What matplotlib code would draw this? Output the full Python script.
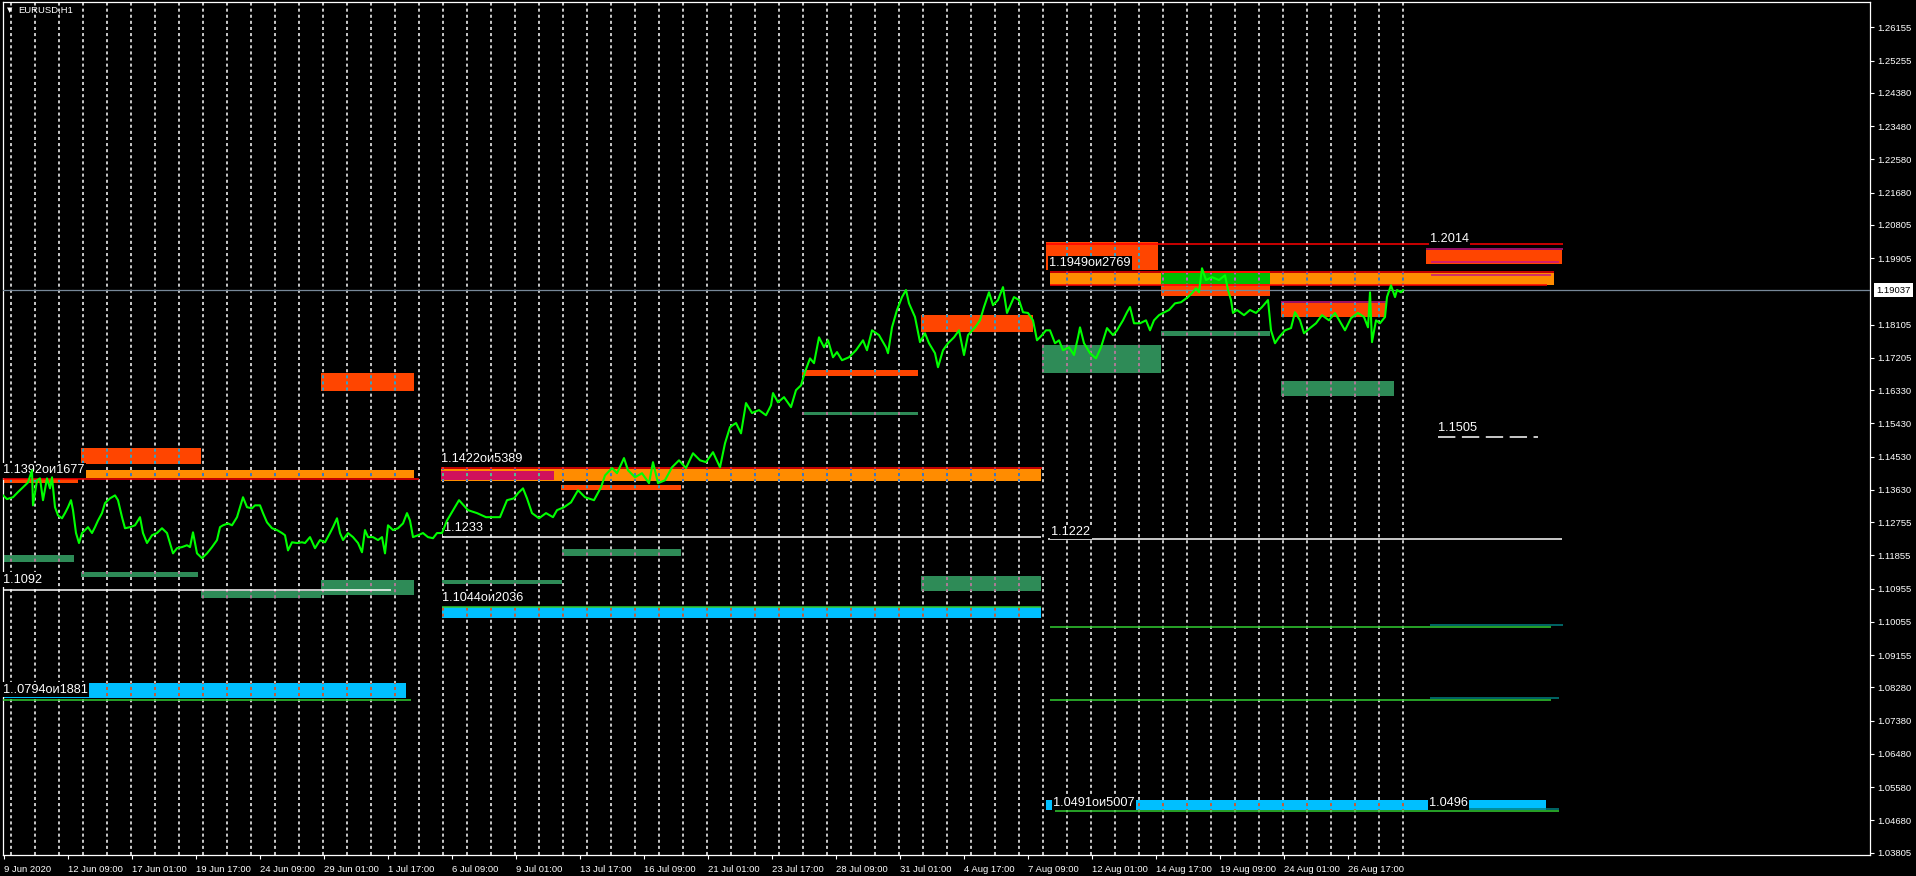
import numpy as np
import matplotlib
matplotlib.use('Agg')
import matplotlib.pyplot as plt
import matplotlib.patches as patches
import matplotlib.colors as mcolors
import matplotlib.transforms as mtransforms

plt.rcParams['font.family'] = ['Liberation Sans', 'DejaVu Sans']
plt.rcParams['lines.scale_dashes'] = False

# EURUSD H1 closes, bar 0 = 9 Jun 2020 17:00 (one bar per hour)
price_points = [
    (-1, 1.1348), (3, 1.1338), (9, 1.1343), (14, 1.1357), (19, 1.1370), (24, 1.1383), (28, 1.1416), (29, 1.1321), (33, 1.1389), (36, 1.1394),
    (39, 1.1335), (43, 1.1394), (46, 1.1367), (48, 1.1397), (51, 1.1316), (54, 1.1294), (58, 1.1286), (61, 1.1300), (64, 1.1316), (67, 1.1335),
    (69, 1.1308), (72, 1.1246), (75, 1.1219), (78, 1.1246), (81, 1.1254), (84, 1.1262), (88, 1.1246), (91, 1.1262), (94, 1.1280), (98, 1.1300),
    (101, 1.1327), (106, 1.1340), (111, 1.1348), (114, 1.1335), (118, 1.1289), (121, 1.1259), (126, 1.1262), (131, 1.1267), (136, 1.1289), (139, 1.1246),
    (143, 1.1219), (148, 1.1240), (153, 1.1246), (158, 1.1259), (163, 1.1246), (166, 1.1219), (169, 1.1191), (173, 1.1205), (178, 1.1208), (183, 1.1213),
    (186, 1.1208), (189, 1.1248), (193, 1.1191), (198, 1.1178), (203, 1.1191), (208, 1.1208), (213, 1.1227), (216, 1.1262), (219, 1.1267), (224, 1.1272),
    (228, 1.1267), (233, 1.1289), (236, 1.1316), (239, 1.1343), (243, 1.1316), (248, 1.1313), (251, 1.1321), (256, 1.1321), (259, 1.1300), (263, 1.1275),
    (268, 1.1259), (273, 1.1254), (278, 1.1246), (281, 1.1240), (284, 1.1199), (288, 1.1221), (293, 1.1219), (298, 1.1221), (301, 1.1219), (306, 1.1235),
    (311, 1.1205), (316, 1.1227), (321, 1.1221), (326, 1.1246), (329, 1.1262), (333, 1.1286), (336, 1.1246), (339, 1.1227), (344, 1.1246), (349, 1.1235),
    (354, 1.1219), (358, 1.1194), (361, 1.1254), (364, 1.1235), (369, 1.1235), (374, 1.1227), (378, 1.1235), (381, 1.1191), (384, 1.1267), (389, 1.1254),
    (394, 1.1259), (399, 1.1272), (403, 1.1300), (406, 1.1280), (409, 1.1235), (414, 1.1240), (419, 1.1246), (424, 1.1235), (429, 1.1232), (433, 1.1246),
    (438, 1.1246), (443, 1.1280),
    (445, 1.1289), (455, 1.1335), (464, 1.1308), (473, 1.1300), (482, 1.1289), (496, 1.1289), (503, 1.1335), (510, 1.1340), (514, 1.1354), (519, 1.1367),
    (523, 1.1340), (528, 1.1300), (535, 1.1286), (542, 1.1300), (549, 1.1289), (553, 1.1308), (560, 1.1316), (567, 1.1329), (574, 1.1362), (581, 1.1343),
    (590, 1.1335), (597, 1.1370), (601, 1.1402), (608, 1.1422), (613, 1.1408), (620, 1.1449), (624, 1.1416), (631, 1.1397), (638, 1.1408), (645, 1.1381),
    (649, 1.1438), (654, 1.1381), (661, 1.1389), (668, 1.1424), (675, 1.1443), (682, 1.1422), (689, 1.1462), (696, 1.1443), (702, 1.1438), (709, 1.1465),
    (716, 1.1424), (721, 1.1489), (726, 1.1533), (732, 1.1544), (737, 1.1516), (742, 1.1598), (748, 1.1571), (755, 1.1579), (762, 1.1565), (767, 1.1592),
    (769, 1.1625), (774, 1.1600), (780, 1.1614), (787, 1.1587), (792, 1.1633), (797, 1.1646), (801, 1.1682), (806, 1.1719), (810, 1.1706), (815, 1.1776),
    (820, 1.1749), (824, 1.1768), (829, 1.1722), (833, 1.1736), (838, 1.1714), (845, 1.1722), (852, 1.1741), (859, 1.1768), (863, 1.1741), (868, 1.1795),
    (875, 1.1782), (882, 1.1749), (884, 1.1733), (888, 1.1803), (893, 1.1850), (898, 1.1885), (902, 1.1904), (905, 1.1868), (911, 1.1831), (916, 1.1763),
    (921, 1.1787), (925, 1.1760), (931, 1.1733), (934, 1.1695), (939, 1.1741), (944, 1.1760), (950, 1.1776), (955, 1.1795), (960, 1.1728), (964, 1.1782),
    (971, 1.1803), (976, 1.1822), (980, 1.1858), (985, 1.1898), (989, 1.1863), (994, 1.1877), (999, 1.1912), (1003, 1.1842), (1010, 1.1885), (1015, 1.1877),
    (1019, 1.1844), (1024, 1.1842), (1029, 1.1822), (1033, 1.1768), (1038, 1.1782),
    (1042, 1.1795), (1046, 1.1795), (1051, 1.1760), (1055, 1.1768), (1059, 1.1741), (1065, 1.1749), (1070, 1.1728), (1074, 1.1776), (1076, 1.1803), (1080, 1.1760),
    (1086, 1.1733), (1092, 1.1719), (1097, 1.1749), (1103, 1.1801), (1109, 1.1782), (1113, 1.1795), (1119, 1.1822), (1123, 1.1844), (1126, 1.1858), (1130, 1.1814),
    (1136, 1.1814), (1142, 1.1822), (1146, 1.1795), (1150, 1.1822), (1155, 1.1836), (1159, 1.1842), (1165, 1.1850), (1171, 1.1868), (1177, 1.1871), (1184, 1.1885),
    (1188, 1.1896), (1192, 1.1909), (1195, 1.1898), (1198, 1.1963), (1202, 1.1931), (1208, 1.1939), (1215, 1.1931), (1221, 1.1944), (1224, 1.1904), (1227, 1.1877),
    (1229, 1.1842), (1233, 1.1850), (1240, 1.1836), (1246, 1.1850), (1252, 1.1842), (1258, 1.1858), (1264, 1.1877), (1267, 1.1795), (1271, 1.1760), (1275, 1.1776),
    (1281, 1.1795), (1287, 1.1801), (1291, 1.1844), (1296, 1.1822), (1300, 1.1787), (1306, 1.1801), (1312, 1.1814), (1318, 1.1836), (1325, 1.1822), (1331, 1.1842),
    (1337, 1.1814), (1341, 1.1795), (1347, 1.1828), (1354, 1.1842), (1360, 1.1831), (1364, 1.1803), (1366, 1.1898), (1368, 1.1763), (1372, 1.1822), (1376, 1.1814),
    (1381, 1.1831), (1383, 1.1885), (1387, 1.1917), (1391, 1.1885), (1393, 1.1904), (1397, 1.1898), (1399, 1.19037),
]
price_bars = [p[0] for p in price_points]
price_close = [p[1] for p in price_points]
last_price = 1.19037

# zones (rectangles): start bar, end bar, low, high
zone_start = [77, -1, -1, -1, 77, 197, 317, -1, 317, 437, 437, 557, 558, 438, 438,
              798, 798, 917, 917, 1042, 1046, 1157, 1157, 1277, 1157, 1038, 1277, 1422, 1042]
zone_end = [197, 410, 74, 70, 194, 317, 410, 402, 410, 1037, 550, 677, 677, 558, 1037,
            914, 914, 1029, 1037, 1154, 1550, 1266, 1266, 1382, 1266, 1157, 1390, 1558, 1542]
zone_low = [1.1432, 1.1394, 1.1381, 1.1167, 1.1126, 1.1069, 1.1077, 1.0798, 1.1630, 1.1386,
            1.1389, 1.1362, 1.1183, 1.1107, 1.1015, 1.1671, 1.1565, 1.1790, 1.1088, 1.1958,
            1.1917, 1.1887, 1.1920, 1.1831, 1.1779, 1.1679, 1.1617, 1.1974, 1.0495]
zone_high = [1.1476, 1.1416, 1.1391, 1.1186, 1.1140, 1.1088, 1.1118, 1.0839, 1.1679, 1.1419,
             1.1413, 1.1375, 1.1202, 1.1120, 1.1047, 1.1687, 1.1573, 1.1836, 1.1129, 1.2034,
             1.1950, 1.1955, 1.1950, 1.1869, 1.1793, 1.1755, 1.1657, 1.2012, 1.0524]
zone_kind = ['OR', 'DO', 'OR', 'SG', 'SG', 'SG', 'SG', 'DSB', 'OR', 'DO',
             'CR', 'OR', 'SG', 'SG', 'DSB', 'OR', 'SG', 'OR', 'SG', 'OR',
             'DO', 'OR', 'GR', 'OR', 'SG', 'SG', 'SG', 'OR', 'DSB']

# level lines: start bar, end bar, price
level_start = [-1, -1, -1, 437, 438, 438, 1042, 1046, 1046, 1277, 1422, 1427, 1427,
               1044, 1046, 1426, 1046, 1426, 1051, 1426, 1434]
level_end = [415, 387, 407, 1038, 1037, 1037, 1559, 1550, 1543, 1382, 1559, 1555, 1547,
             1558, 1547, 1559, 1547, 1555, 1555, 1555, 1534]
level_price = [1.1392, 1.1093, 1.0795, 1.1421, 1.1236, 1.1047, 1.2028, 1.1953, 1.1919, 1.1872,
               1.2016, 1.1979, 1.1946, 1.1229, 1.0991, 1.0997, 1.0793, 1.0798, 1.0493, 1.0498, 1.1505]
level_kind = ['red', 'white', 'lime', 'red', 'white', 'lime', 'red', 'red', 'red', 'mvr',
              'mvr', 'mvr', 'mvr', 'white', 'lime', 'teal', 'lime', 'teal', 'lime', 'teal', 'dash']

# text labels
label_text = ['1.1392ои1677', '1.1092', '1..0794ои1881', '1.1422ои5389', '1.1233', '1.1044ои2036',
              '1.1949ои2769', '1.2014', '1.1505', '1.1222', '1.0491ои5007', '1.0496']
label_bar = [-1, -1, -1, 437, 440, 438, 1045, 1426, 1434, 1047, 1049, 1425]
label_price = [1.1416, 1.1120, 1.0822, 1.1446, 1.1259, 1.1070, 1.1977, 1.2042, 1.1531, 1.1249, 1.0516, 1.0516]

# axes
time_labels = ['9 Jun 2020', '12 Jun 09:00', '17 Jun 01:00', '19 Jun 17:00', '24 Jun 09:00',
               '29 Jun 01:00', '1 Jul 17:00', '6 Jul 09:00', '9 Jul 01:00', '13 Jul 17:00',
               '16 Jul 09:00', '21 Jul 01:00', '23 Jul 17:00', '28 Jul 09:00', '31 Jul 01:00',
               '4 Aug 17:00', '7 Aug 09:00', '12 Aug 01:00', '14 Aug 17:00', '19 Aug 09:00',
               '24 Aug 01:00', '26 Aug 17:00']
price_ticks = ['1.26155', '1.25255', '1.24380', '1.23480', '1.22580', '1.21680', '1.20805',
               '1.19905', '1.18105', '1.17205', '1.16330', '1.15430', '1.14530', '1.13630',
               '1.12755', '1.11855', '1.10955', '1.10055', '1.09155', '1.08280', '1.07380',
               '1.06480', '1.05580', '1.04680', '1.03805']
n_days = 59          # daily period separators (first at 10 Jun 00:00)
first_sep = 7
bars_per_label = 64

zone_colors = {'OR': '#FF4500', 'DO': '#FF8C00', 'SG': '#2E8B57', 'DSB': '#00BFFF',
               'CR': '#D0105C', 'GR': '#00C000'}
level_colors = {'red': '#FF0000', 'white': '#FFFFFF', 'lime': '#32CD32', 'mvr': '#C71585',
                'teal': '#008080', 'dash': '#FFFFFF'}

W, H = 1916, 876
fig = plt.figure(figsize=(W / 100, H / 100), dpi=100, facecolor='black')
ax = fig.add_axes([3 / W, 21 / H, 1867 / W, 853 / H])
ax.set_facecolor('black')
ax.set_xlim(-1, 1866)
ylim = (1.03742, 1.26840)
ax.set_ylim(ylim)

separators = first_sep + 24 * np.arange(n_days)
sep_style = dict(linestyles=[(0, (2.2, 2.2))], linewidth=1.1)
ax.vlines(separators, ylim[0], ylim[1], colors='white', zorder=1, **sep_style)

# zones, with separators drawn in inverted colour over them
for i in range(len(zone_start)):
    z = 2 + i * 0.01
    col = zone_colors[zone_kind[i]]
    rect = patches.Rectangle((zone_start[i], zone_low[i]), zone_end[i] - zone_start[i],
                             zone_high[i] - zone_low[i], facecolor=col, edgecolor='none',
                             zorder=z)
    ax.add_patch(rect)
    inv = tuple(1 - c for c in mcolors.to_rgb(col))
    vl = ax.vlines(separators, ylim[0], ylim[1], colors=[inv], zorder=z + 0.005, **sep_style)
    vl.set_clip_path(rect)

for b0, b1, p, k in zip(level_start, level_end, level_price, level_kind):
    ls = (0, (12.5, 4.7)) if k == 'dash' else '-'
    ax.hlines(p, b0, b1, colors=level_colors[k], linewidth=1.1, linestyles=[ls], zorder=3)

ax.axhline(last_price, color='#778899', linewidth=0.9, zorder=3)

for t, b, p in zip(label_text, label_bar, label_price):
    ax.text(b, p, t, color='white', fontsize=9.2, ha='left', va='center', zorder=4,
            bbox=dict(facecolor='black', edgecolor='none', pad=1.0))

ax.plot(price_bars, price_close, color='#00FF00', linewidth=1.5, zorder=5)

# frame and axes
for s in ax.spines.values():
    s.set_color('white')
    s.set_linewidth(0.9)
ax.set_xticks(bars_per_label * np.arange(len(time_labels)), labels=time_labels)
for t in ax.get_xticklabels():
    t.set_ha('left')
ax.yaxis.tick_right()
ax.set_yticks([float(v) for v in price_ticks], labels=price_ticks)
ax.tick_params(axis='both', colors='white', labelcolor='white', labelsize=6.8,
               length=3, width=0.8, direction='out')
ax.tick_params(axis='x', pad=4)
ax.tick_params(axis='y', pad=2)

trans = mtransforms.blended_transform_factory(ax.transAxes, ax.transData)
ax.annotate(f'{last_price:.5f}', xy=(1, last_price), xycoords=trans, xytext=(4.3, 0),
            textcoords='offset points', ha='left', va='center', fontsize=6.8, color='black',
            bbox=dict(boxstyle='square,pad=0.25', facecolor='white', edgecolor='none'),
            annotation_clip=False, zorder=10)

fig.text(7 / W, 1 - 10 / H, '▼', color='white', fontsize=5, ha='left', va='center',
         family='DejaVu Sans')
fig.text(18 / W, 1 - 10 / H, 'EURUSD,H1', color='white', fontsize=6.8, ha='left', va='center')

fig.savefig('out.png', dpi=100, facecolor='black')
